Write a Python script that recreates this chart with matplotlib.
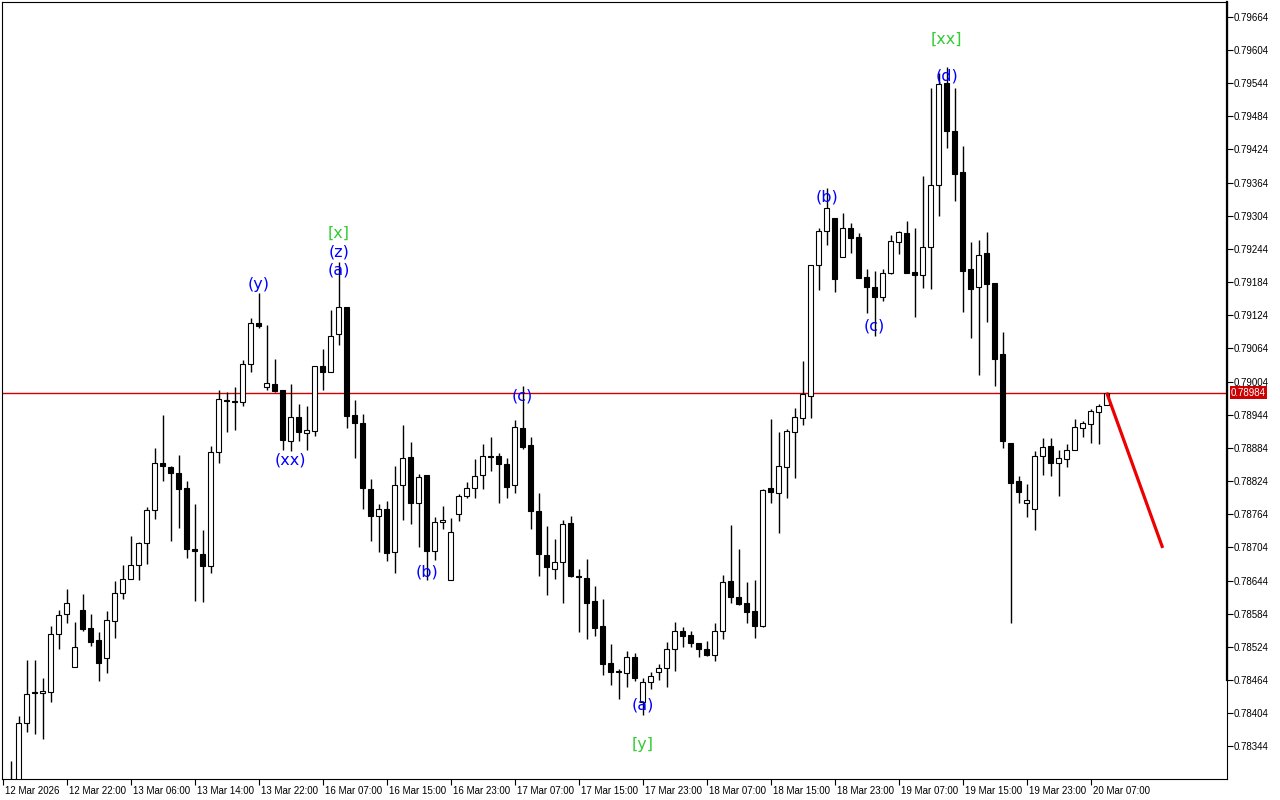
import numpy as np
import matplotlib
matplotlib.use('Agg')
from matplotlib import pyplot as plt
import matplotlib.transforms as mtransforms

# hourly candles, prices in points (x 1e-5)
opens = [78247, 78265, 78386, 78442, 78440, 78442, 78547, 78583, 78487, 78590,
         78558, 78536, 78504, 78571, 78621, 78647, 78672, 78712, 78771, 78856,
         78849, 78838, 78811, 78701, 78692, 78670, 78876, 78971, 78969, 78967,
         79035, 79110, 78994, 78999, 78988, 78896, 78940, 78911, 78914, 79032,
         79021, 79090, 79139, 78943, 78929, 78809, 78761, 78773, 78695, 78817,
         78867, 78784, 78835, 78697, 78750, 78645, 78764, 78797, 78811, 78835,
         78869, 78869, 78855, 78817, 78920, 78889, 78770, 78690, 78665, 78677,
         78748, 78652, 78648, 78607, 78562, 78495, 78480, 78476, 78506, 78424,
         78460, 78478, 78486, 78520, 78552, 78545, 78531, 78520, 78509, 78552,
         78643, 78614, 78603, 78589, 78562, 78811, 78802, 78849, 78912, 78938,
         78978, 79215, 79276, 79300, 79229, 79282, 79265, 79193, 79175, 79157,
         79200, 79256, 79273, 79202, 79197, 79247, 79359, 79544, 79457, 79383,
         79207, 79175, 79236, 79182, 79054, 78893, 78824, 78784, 78773, 78869,
         78887, 78856, 78864, 78880, 78920, 78927, 78949, 78961]
highs = [78317, 78399, 78500, 78500, 78467, 78562, 78590, 78628, 78569, 78619,
         78583, 78551, 78589, 78643, 78672, 78724, 78713, 78777, 78884, 78943,
         78851, 78871, 78824, 78782, 78735, 78887, 78988, 78985, 78994, 79043,
         79119, 79164, 79106, 79045, 78988, 78999, 78963, 78959, 79032, 79063,
         79133, 79220, 79139, 78970, 78945, 78827, 78782, 78788, 78851, 78925,
         78894, 78836, 78835, 78759, 78779, 78757, 78800, 78822, 78864, 78891,
         78903, 78874, 78865, 78934, 78996, 78903, 78802, 78742, 78719, 78753,
         78761, 78665, 78683, 78634, 78610, 78529, 78484, 78516, 78513, 78467,
         78478, 78493, 78533, 78569, 78560, 78552, 78531, 78534, 78567, 78654,
         78744, 78701, 78641, 78645, 78809, 78936, 78912, 78918, 78956, 79041,
         79215, 79282, 79354, 79300, 79309, 79291, 79273, 79207, 79204, 79207,
         79269, 79276, 79294, 79282, 79376, 79535, 79562, 79573, 79535, 79430,
         79256, 79260, 79274, 79182, 79093, 78893, 78833, 78818, 78878, 78902,
         78902, 78880, 78891, 78936, 78932, 78954, 78963, 78984]
lows = [78229, 78256, 78370, 78366, 78357, 78424, 78520, 78567, 78487, 78552,
        78525, 78462, 78476, 78540, 78610, 78647, 78645, 78674, 78755, 78824,
        78715, 78739, 78685, 78607, 78605, 78657, 78856, 78912, 78916, 78959,
        79021, 79101, 78988, 78985, 78880, 78878, 78896, 78880, 78905, 78988,
        79021, 79070, 78920, 78865, 78773, 78715, 78695, 78679, 78657, 78753,
        78746, 78704, 78645, 78681, 78737, 78645, 78751, 78793, 78793, 78809,
        78842, 78784, 78793, 78802, 78882, 78737, 78652, 78618, 78647, 78603,
        78650, 78551, 78538, 78544, 78473, 78455, 78430, 78451, 78462, 78401,
        78448, 78464, 78451, 78480, 78524, 78524, 78506, 78507, 78498, 78538,
        78603, 78600, 78567, 78540, 78560, 78784, 78730, 78793, 78829, 78925,
        78938, 79169, 79251, 79166, 79229, 79236, 79191, 79128, 79086, 79150,
        79198, 79235, 79200, 79121, 79173, 79171, 79303, 79426, 79330, 79130,
        79083, 79016, 79111, 78996, 78884, 78567, 78784, 78759, 78735, 78835,
        78833, 78797, 78849, 78880, 78903, 78893, 78891, 78961]
closes = [78265, 78386, 78439, 78440, 78444, 78547, 78581, 78603, 78524, 78556,
          78533, 78495, 78572, 78621, 78647, 78672, 78712, 78771, 78856, 78851,
          78838, 78809, 78701, 78697, 78670, 78876, 78972, 78969, 78967, 79035,
          79110, 79104, 79001, 78987, 78898, 78940, 78912, 78916, 79032, 79021,
          79086, 79139, 78941, 78929, 78811, 78761, 78773, 78694, 78817, 78865,
          78784, 78831, 78697, 78750, 78753, 78732, 78797, 78811, 78833, 78869,
          78868, 78855, 78813, 78922, 78885, 78770, 78692, 78668, 78677, 78746,
          78652, 78650, 78603, 78558, 78493, 78478, 78478, 78506, 78467, 78460,
          78471, 78486, 78520, 78552, 78544, 78531, 78520, 78509, 78552, 78641,
          78614, 78601, 78587, 78562, 78808, 78804, 78851, 78914, 78940, 78981,
          79215, 79276, 79318, 79189, 79282, 79264, 79191, 79175, 79157, 79200,
          79258, 79274, 79200, 79197, 79247, 79359, 79542, 79457, 79379, 79204,
          79171, 79233, 79180, 79045, 78896, 78820, 78804, 78790, 78869, 78885,
          78856, 78865, 78880, 78922, 78929, 78950, 78959, 78984]

time_labels = ['12 Mar 2026', '12 Mar 22:00', '13 Mar 06:00', '13 Mar 14:00', '13 Mar 22:00',
               '16 Mar 07:00', '16 Mar 15:00', '16 Mar 23:00', '17 Mar 07:00', '17 Mar 15:00',
               '17 Mar 23:00', '18 Mar 07:00', '18 Mar 15:00', '18 Mar 23:00', '19 Mar 07:00',
               '19 Mar 15:00', '19 Mar 23:00', '20 Mar 07:00']
price_ticks = [78344 + 60 * k for k in range(23)]
last_price = 78984
target = (144, 78703)

# wave labels: text, bar index, price (points), colour
waves = [('[x]', 41, 79273, 'g'), ('(z)', 41, 79238, 'b'), ('(a)', 41, 79206, 'b'),
         ('(y)', 31, 79179, 'b'), ('(xx)', 35, 78862, 'b'), ('(b)', 52, 78660, 'b'),
         ('(c)', 64, 78978, 'b'), ('(a)', 79, 78419, 'b'), ('[y]', 79, 78348, 'g'),
         ('(b)', 102, 79338, 'b'), ('(c)', 108, 79105, 'b'), ('(d)', 117, 79557, 'b'),
         ('[xx]', 117, 79624, 'g')]

o = np.array(opens) / 1e5
h = np.array(highs) / 1e5
l = np.array(lows) / 1e5
c = np.array(closes) / 1e5
x = np.arange(len(o))

plt.rcParams['font.family'] = ['Liberation Sans', 'DejaVu Sans']
fig = plt.figure(figsize=(12.8, 8), dpi=100)
ax = fig.add_axes([2 / 1280, 21 / 800, 1225 / 1280, 777 / 800])

ax.vlines(x, l, h, color='black', lw=1, zorder=2)
up = c >= o
body_lo = np.minimum(o, c)
body_h = np.maximum(np.abs(c - o), 0.00001)
ax.bar(x[up], body_h[up], bottom=body_lo[up], width=0.6, facecolor='white',
       edgecolor='black', lw=0.8, zorder=3)
ax.bar(x[~up], body_h[~up], bottom=body_lo[~up], width=0.6, facecolor='black',
       edgecolor='black', lw=0.8, zorder=3)

ax.axhline(last_price / 1e5, color='#d40000', lw=1, zorder=1)
ax.plot([x[-1], target[0]], [c[-1], target[1] / 1e5], color='#ee0000', lw=2.3,
        solid_capstyle='butt', zorder=4)

cols = {'b': '#0000ff', 'g': '#33cc33'}
for txt, i, p, col in waves:
    ax.text(i, p / 1e5, txt, color=cols[col], fontsize=11.5, ha='center', va='center',
            family='DejaVu Sans', zorder=5)

ax.set_xlim(-1.09, 152.04)
ax.set_ylim(0.78285, 0.796906)

ax.yaxis.tick_right()
ax.set_yticks(np.array(price_ticks) / 1e5)
ax.set_yticklabels(['%.5f' % (v / 1e5) for v in price_ticks])
ax.tick_params(axis='y', direction='out', length=4, pad=1, labelsize=7, width=0.8)

ax.set_xticks([-1 + 8 * k for k in range(len(time_labels))])
ax.set_xticklabels(time_labels)
ax.tick_params(axis='x', direction='out', length=4, pad=1, labelsize=7, width=0.8)
off = mtransforms.ScaledTranslation(2 / 100, 0, fig.dpi_scale_trans)
for lab in ax.get_xticklabels():
    lab.set_horizontalalignment('left')
    lab.set_transform(lab.get_transform() + off)

for s in ax.spines.values():
    s.set_linewidth(0.8)
# thicker part of the right edge, as in the terminal
ax.plot([152.04, 152.04], [0.78464, 0.796906], color='black', lw=1.6, clip_on=False, zorder=6)

trans = mtransforms.blended_transform_factory(ax.transAxes, ax.transData)
ax.text(1.0 + 4 / 1225, last_price / 1e5, '%.5f' % (last_price / 1e5), transform=trans,
        ha='left', va='center', color='white', fontsize=7,
        bbox=dict(boxstyle='square,pad=0.15', fc='#cc0000', ec='none'), zorder=7)

fig.savefig('out.png', dpi=100)
